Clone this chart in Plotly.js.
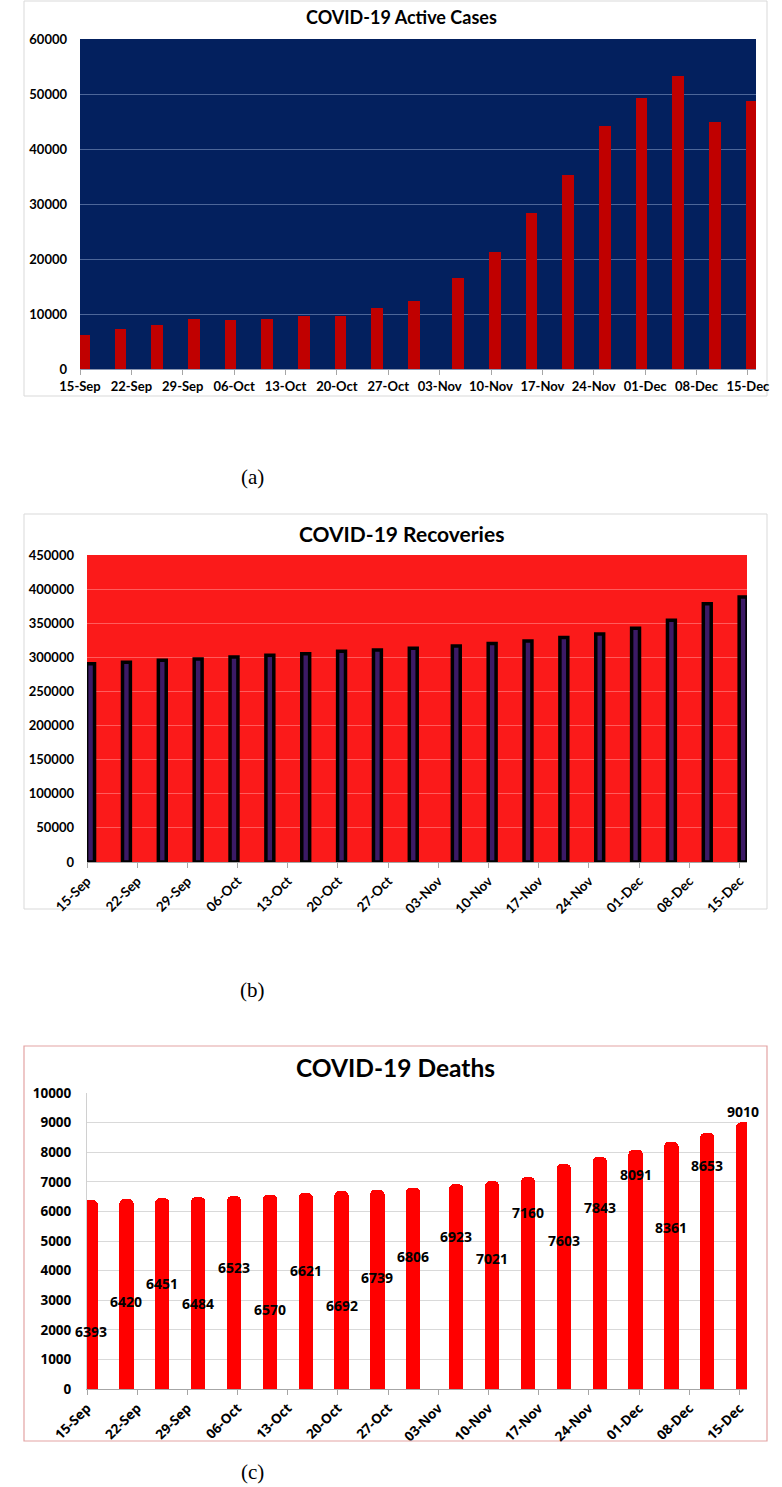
<!DOCTYPE html>
<html>
<head>
<meta charset="utf-8">
<script src="https://cdn.plot.ly/plotly-3.0.1.min.js"></script>
<style>
  html, body { margin: 0; padding: 0; background: #ffffff; }
  #chart { width: 782px; height: 1487px; }
</style>
</head>
<body>
<div id="chart"></div>
<script>
// ---------------- DATA ----------------
const dates = [
  '2020-09-15', '2020-09-20', '2020-09-25', '2020-09-30', '2020-10-05',
  '2020-10-10', '2020-10-15', '2020-10-20', '2020-10-25', '2020-10-30',
  '2020-11-05', '2020-11-10', '2020-11-15', '2020-11-20', '2020-11-25',
  '2020-11-30', '2020-12-05', '2020-12-10', '2020-12-15'
];
const activeCases = [
  6180, 7210, 8060, 9090, 8850, 9150, 9640, 9640, 11090, 12360,
  16480, 21330, 28300, 35210, 44180, 49330, 53330, 44850, 48670
];
const recoveries = [
  290500, 292700, 295600, 297600, 300500, 303000, 305400, 308800, 310800, 313300,
  316700, 320100, 324000, 328900, 334300, 342600, 354300, 378700, 388500
];
const deaths = [
  6393, 6420, 6451, 6484, 6523, 6570, 6621, 6692, 6739, 6806,
  6923, 7021, 7160, 7603, 7843, 8091, 8361, 8653, 9010
];
const titles = ['COVID-19 Active Cases', 'COVID-19 Recoveries', 'COVID-19 Deaths'];
const captions = ['(a)', '(b)', '(c)'];

// -------------- STYLING / LAYOUT --------------
const W = 782, H = 1487;
const DAY = 86400000;
const px = v => v / W;
const py = v => 1 - v / H;

// label vertical shifts (px) for the deaths data labels, as placed in the original
const deathLabelShift = [-132, -103, -85, -106, -72, -115, -77, -115, -88, -69,
                         -52, -77, -35, -77, -51, -25, -86, -33, 11];

const tickFontA = {family: 'Lato', size: 13, color: '#000', weight: 'bold'};
const tickFontB = {family: 'Lato', size: 13.5, color: '#000', weight: 'bold'};
const tickFontC = {family: 'Open Sans', size: 13.5, color: '#000', weight: 'bold'};

function xAxis(domain, y, anchorRange, font, angle) {
  return {
    type: 'date', domain: domain, anchor: y,
    range: anchorRange,
    tick0: '2020-09-15', dtick: 7 * DAY, tickformat: '%d-%b',
    ticks: 'outside', ticklen: 5, tickcolor: '#a6a6a6', tickwidth: 1,
    showline: true, linecolor: '#a6a6a6', linewidth: 1,
    showgrid: false, zeroline: false,
    tickfont: font, tickangle: angle, automargin: false
  };
}
function yAxis(domain, x, range, dtick, gridcolor, font, showline) {
  return {
    domain: domain, anchor: x, range: range, dtick: dtick,
    tickformat: 'd', showgrid: true, gridcolor: gridcolor, gridwidth: 1,
    zeroline: false, showline: showline, linecolor: '#d0d0d0',
    ticks: '', tickfont: font, ticklabelstandoff: 12, automargin: false
  };
}

const traces = [
  {
    type: 'bar', x: dates, y: activeCases, xaxis: 'x', yaxis: 'y',
    offset: -0.3 * DAY, width: 1.6 * DAY,
    marker: {color: '#c00000', line: {width: 0}},
    hoverinfo: 'x+y'
  },
  {
    type: 'bar', x: dates, y: recoveries, xaxis: 'x2', yaxis: 'y2',
    offset: -0.05 * DAY, width: 1.1 * DAY,
    marker: {color: '#3c1a66', line: {color: '#000000', width: 3.5}},
    hoverinfo: 'x+y'
  },
  {
    type: 'bar', x: dates, y: deaths, xaxis: 'x3', yaxis: 'y3',
    offset: -0.5 * DAY, width: 2 * DAY,
    marker: {color: '#ff0000', line: {width: 0}, cornerradius: 5},
    hoverinfo: 'x+y'
  }
];

const annotations = [];
// titles
const titleSpec = [
  {x: 401, y: 17, size: 18},
  {x: 401, y: 533, size: 21},
  {x: 395, y: 1067, size: 24.5}
];
titleSpec.forEach((t, i) => annotations.push({
  xref: 'paper', yref: 'paper', x: px(t.x), y: py(t.y),
  xanchor: 'center', yanchor: 'middle', showarrow: false,
  text: titles[i],
  font: {family: 'Lato', size: t.size, color: '#000', weight: 'bold'}
}));
// captions
[477, 990, 1472].forEach((cy, i) => annotations.push({
  xref: 'paper', yref: 'paper', x: px(252), y: py(cy),
  xanchor: 'center', yanchor: 'middle', showarrow: false,
  text: captions[i],
  font: {family: 'Liberation Serif', size: 21, color: '#000'}
}));
// death data labels
deaths.forEach((v, i) => annotations.push({
  xref: 'x3', yref: 'y3',
  x: new Date(new Date(dates[i] + 'T00:00:00Z').getTime() + 0.5 * DAY).toISOString().slice(0, 19).replace('T', ' '),
  y: v, yshift: deathLabelShift[i],
  xanchor: 'center', yanchor: 'middle', showarrow: false,
  text: String(v),
  font: {family: 'Open Sans', size: 14, color: '#000', weight: 'bold'}
}));

const shapes = [
  // chart frames
  {type: 'rect', xref: 'paper', yref: 'paper', x0: px(24), x1: px(767), y0: py(1), y1: py(396),
   line: {color: '#d9d9d9', width: 1}, fillcolor: 'rgba(0,0,0,0)', layer: 'below'},
  {type: 'rect', xref: 'paper', yref: 'paper', x0: px(24), x1: px(767), y0: py(514), y1: py(909),
   line: {color: '#d9d9d9', width: 1}, fillcolor: 'rgba(0,0,0,0)', layer: 'below'},
  {type: 'rect', xref: 'paper', yref: 'paper', x0: px(24), x1: px(767), y0: py(1046), y1: py(1441),
   line: {color: '#e3a3a3', width: 1.2}, fillcolor: 'rgba(0,0,0,0)', layer: 'below'},
  // plot area backgrounds
  {type: 'rect', xref: 'x domain', yref: 'y domain', x0: 0, x1: 1, y0: 0, y1: 1,
   line: {width: 0}, fillcolor: '#03205e', layer: 'below'},
  {type: 'rect', xref: 'x2 domain', yref: 'y2 domain', x0: 0, x1: 1, y0: 0, y1: 1,
   line: {width: 0}, fillcolor: '#fb1a1a', layer: 'below'}
];

const layout = {
  width: W, height: H,
  margin: {l: 0, r: 0, t: 0, b: 0, pad: 0},
  paper_bgcolor: '#ffffff', plot_bgcolor: 'rgba(0,0,0,0)',
  showlegend: false, bargap: 0,
  xaxis: xAxis([px(80), px(756)], 'y', ['2020-09-15', '2020-12-16 02:30'], tickFontA, 0),
  yaxis: yAxis([py(369), py(39)], 'x', [0, 60000], 10000, '#4d6699', tickFontA, false),
  xaxis2: xAxis([px(87), px(747)], 'y2', ['2020-09-15', '2020-12-16 01:00'], tickFontB, -45),
  yaxis2: yAxis([py(862), py(555)], 'x2', [0, 450000], 50000, '#ff5c5c', tickFontA, false),
  xaxis3: xAxis([px(87), px(747)], 'y3', ['2020-09-15', '2020-12-16 01:00'], tickFontC, -45),
  yaxis3: yAxis([py(1389), py(1093)], 'x3', [0, 10000], 1000, '#d9d9d9', tickFontC, true),
  annotations: annotations,
  shapes: shapes
};
layout.xaxis.linecolor = '#8a96b0';

Plotly.newPlot('chart', traces, layout, {displayModeBar: false, staticPlot: true});
</script>
</body>
</html>
